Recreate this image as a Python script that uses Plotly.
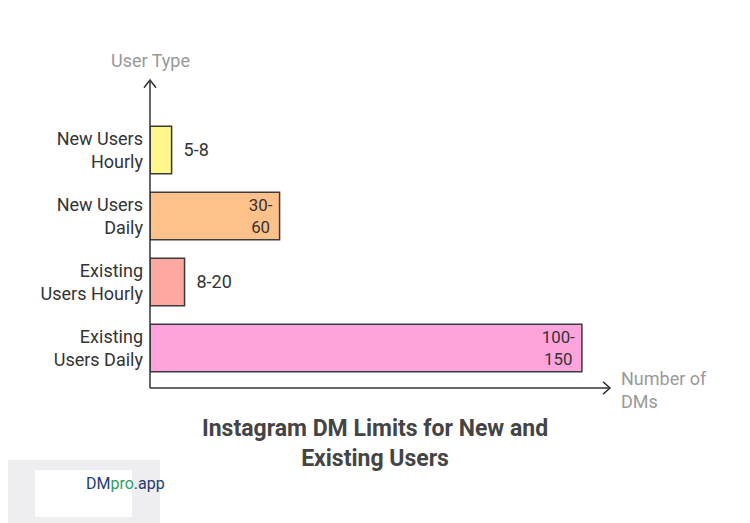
import plotly.graph_objects as go

categories = ["New Users<br>Hourly", "New Users<br>Daily", "Existing<br>Users Hourly", "Existing<br>Users Daily"]
values = [5, 30, 8, 100]
labels = ["  5-8", "30- <br>60 ", "  8-20", "100- <br>150 "]
colors = ["#FFF68C", "#FFC18A", "#FFA8A2", "#FFA3DD"]
positions = ["outside", "inside", "outside", "inside"]

fig = go.Figure(go.Bar(
    x=values, y=list(range(4)), orientation="h",
    marker=dict(color=colors, line=dict(color="#3a3a3a", width=1.5)),
    text=labels, textposition=positions, insidetextanchor="end", textangle=0,
    textfont=dict(size=18, color="#333333", family="Roboto"),
    width=0.72, cliponaxis=False,
))
fig.update_layout(
    width=750, height=523, plot_bgcolor="white", paper_bgcolor="white",
    margin=dict(l=142, r=148, t=72, b=143, autoexpand=False), showlegend=False,
    font=dict(family="Roboto", color="#333333"),
    xaxis=dict(range=[0, 106.5], showgrid=False, showticklabels=False, zeroline=False),
    yaxis=dict(range=[3.606, -1.06], tickvals=list(range(4)), ticktext=categories,
               showgrid=False, zeroline=False, tickfont=dict(size=18, color="#333333"),
               ticklen=0, ticklabelstandoff=6),
)
fig.add_shape(type="line", xref="paper", yref="paper", x0=0, y0=0, x1=0, y1=1, line=dict(color="#333", width=1.5))
fig.add_shape(type="line", xref="paper", yref="paper", x0=0, y0=0, x1=1, y1=0, line=dict(color="#333", width=1.5))
fig.add_shape(type="path", xref="paper", yref="paper",
              path="M -0.013 0.975 L 0 1 L 0.013 0.975", line=dict(color="#333", width=1.5))
fig.add_shape(type="path", xref="paper", yref="paper",
              path="M 0.985 0.02 L 1 0 L 0.985 -0.02", line=dict(color="#333", width=1.5))
fig.add_annotation(text="User Type", xref="paper", yref="paper", x=0, y=1.024, xanchor="center",
                   yanchor="bottom", showarrow=False, font=dict(size=18, color="#999999"))
fig.add_annotation(text="Number of<br>DMs", xref="paper", yref="paper", x=1.02, y=0.05, yshift=7,
                   xanchor="left", yanchor="top", align="left", showarrow=False,
                   font=dict(size=18, color="#999999"))
fig.add_annotation(text="<b>Instagram DM Limits for New and<br>Existing Users</b>", xref="paper", yref="paper",
                   x=(375-150)/460, y=0.0, yshift=-25, xanchor="center", yanchor="top",
                   showarrow=False, font=dict(size=23, color="#444444"))
# logo
fig.add_shape(type="rect", xref="paper", yref="paper",
              x0=(7-150)/460, x1=(160-150)/460, y0=(388-530)/308, y1=(388-460)/308,
              fillcolor="#EEEEF0", line=dict(width=0), layer="below")
fig.add_shape(type="rect", xref="paper", yref="paper",
              x0=(35-150)/460, x1=(132-150)/460, y0=(388-517)/308, y1=(388-470)/308,
              fillcolor="white", line=dict(width=0))
fig.add_annotation(text="DM<span style='color:#2E9E5B'>pro</span>.app", xref="paper", yref="paper",
                   x=(84-150)/460, y=(388-495)/308, showarrow=False,
                   font=dict(size=16, color="#1F3B73"))
fig.write_html("out.html")
